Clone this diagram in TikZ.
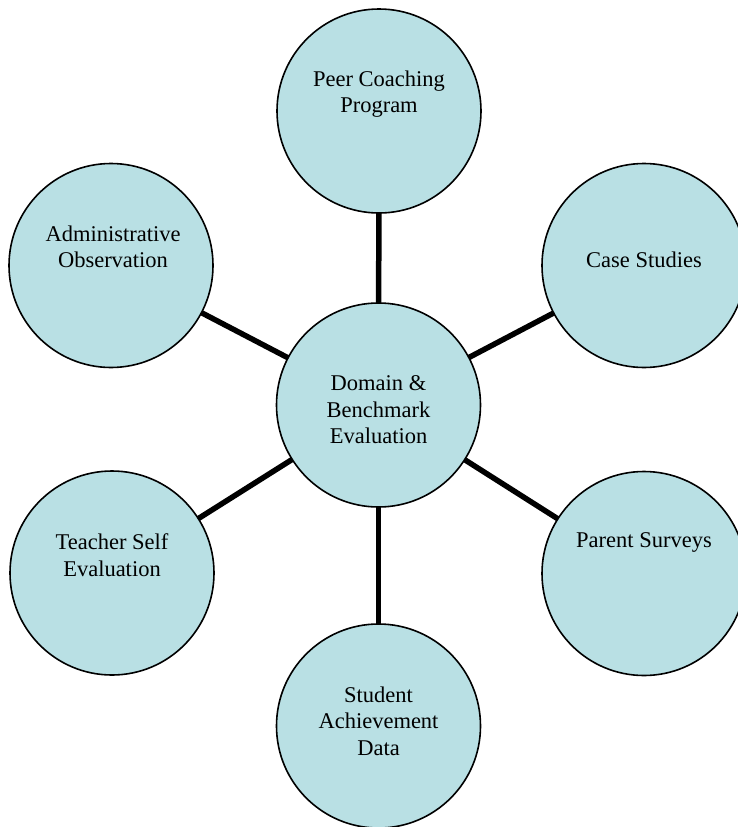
\documentclass[tikz,border=0pt]{standalone}
\usepackage{fontspec}
\setmainfont{Liberation Serif}
\usetikzlibrary{backgrounds}
\begin{document}
\begin{tikzpicture}[x=1pt,y=-1pt,
  bubble/.style={circle, draw=black, line width=1.6pt, fill=bubblefill,
    minimum size=204pt, inner sep=0pt},
  caption/.style={align=center, font=\fontsize{22.5}{26.5}\selectfont, inner sep=0pt},
  spoke/.style={line width=5.5pt, black}]
\definecolor{bubblefill}{RGB}{185,224,228}
\useasboundingbox (0,0) rectangle (738,827);

% circles
\node[bubble] (hub)     at (378.5,405)   {};
\node[bubble] (peer)    at (379,111)     {};
\node[bubble] (case)    at (644,265.5)   {};
\node[bubble] (parent)  at (644,573.5)   {};
\node[bubble] (student) at (378.5,726)   {};
\node[bubble] (admin)   at (111,265.5)   {};
\node[bubble] (teacher) at (112,573)     {};

% spokes behind the circles, from the hub to each outer circle
\begin{scope}[on background layer]
  \foreach \o in {peer,case,parent,student,admin,teacher}
    \draw[spoke] (hub.center) -- (\o.center);
\end{scope}

% captions
\node[caption] (hubtxt)     at (378.5,410) {Domain \&\\Benchmark\\Evaluation};
\node[caption] (peertxt)    at (379,94)    {Peer Coaching\\Program};
\node[caption] (casetxt)    at (644,260)   {Case Studies};
\node[caption] (parenttxt)  at (644,542)   {Parent Surveys};
\node[caption] (studenttxt) at (378.5,721) {Student\\Achievement\\Data};
\node[caption] (admintxt)   at (113,247)   {Administrative\\Observation};
\node[caption] (teachertxt) at (112,555)   {Teacher Self\\Evaluation};
\end{tikzpicture}
\end{document}
